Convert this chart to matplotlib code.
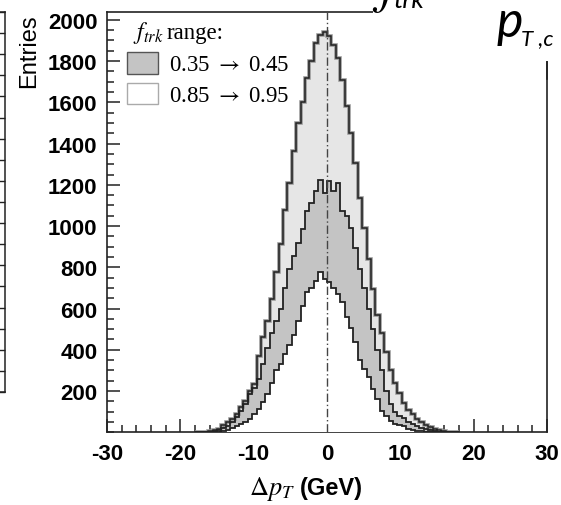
import matplotlib
matplotlib.use("Agg")
import matplotlib.pyplot as plt
import numpy as np
from matplotlib.patches import Rectangle

plt.rcParams['font.family'] = ['Liberation Sans', 'DejaVu Sans']
plt.rcParams['mathtext.fontset'] = 'stix'
plt.rcParams['axes.unicode_minus'] = False

# histogram binning (GeV)
bin_lo = -18.0
bin_width = 0.6

# 0.85 -> 0.95 (outer, light band)
h_outer = [1, 1, 2, 4, 9, 17, 33, 49, 65, 90, 122, 154, 202, 235,
           370, 460, 540, 645, 776, 911, 1080, 1210, 1362, 1500, 1600, 1720, 1800, 1890, 1928, 1941,
           1920, 1880, 1815, 1710, 1581, 1452, 1307, 1138, 992, 839, 694, 570, 480, 390, 300, 240,
           190, 140, 110, 90, 65, 50, 35, 27, 17, 10, 6, 3, 2, 1]
# 0.35 -> 0.45 (upper edge of dark band)
h_mid = [0, 1, 1, 3, 6, 12, 20, 31, 51, 75, 104, 138, 186, 215,
         260, 330, 410, 480, 540, 600, 700, 790, 855, 920, 984, 1073, 1114, 1170, 1223, 1162,
         1218, 1170, 1211, 1073, 1049, 992, 896, 791, 702, 600, 500, 400, 300, 200, 138, 99,
         80, 70, 51, 40, 31, 20, 14, 9, 5, 3, 2, 1, 0, 0]
# lower edge of dark band
h_inner = [0, 0, 0, 0, 1, 3, 6, 12, 20, 31, 41, 51, 65, 90,
           114, 147, 186, 240, 300, 330, 380, 425, 470, 540, 613, 678, 702, 734, 775, 742,
           727, 702, 670, 630, 557, 505, 436, 350, 307, 270, 210, 162, 104, 80, 56, 41,
           35, 31, 17, 12, 7, 4, 2, 1, 0, 0, 0, 0, 0, 0]

legend_title = ("$f_{trk}$", "range:")
legend_labels = [r"0.35 $\rightarrow$ 0.45", r"0.85 $\rightarrow$ 0.95"]

edges = bin_lo + bin_width * np.arange(len(h_outer) + 1)

W, H = 561, 506
fig = plt.figure(figsize=(W / 100, H / 100), dpi=100)

def fx(px):
    return px / W

def fy(py):
    return 1 - py / H

serif = ['Liberation Serif', 'DejaVu Serif']

# main frame
ax = fig.add_axes([fx(107), fy(433.3), fx(547) - fx(107), fy(13) - fy(433.3)])
ax.set_xlim(-30, 30)
ax.set_ylim(0, 2038)

ax.stairs(h_outer, edges, fill=True, color='#e6e6e6', zorder=1)
ax.stairs(h_mid, edges, fill=True, color='#c4c4c4', zorder=2)
ax.stairs(h_inner, edges, fill=True, color='white', zorder=3)
ax.stairs(h_outer, edges, color='#999999', lw=2.6, zorder=4)
ax.stairs(h_outer, edges, color='#222222', lw=1.1, zorder=5)
ax.stairs(h_mid, edges, color='#222222', lw=1.3, zorder=5)
ax.stairs(h_inner, edges, color='#222222', lw=1.3, zorder=5)
ax.axvline(0, color='#444444', lw=1.0, ls=(0, (6, 2, 1, 2)), zorder=6)

for s in ax.spines.values():
    s.set_linewidth(1.2)
    s.set_color('#222222')

ax.set_xticks(np.arange(-30, 31, 10))
ax.set_xticks(np.arange(-30, 31, 2), minor=True)
ax.set_yticks(np.arange(200, 2001, 200))
ax.set_yticks(np.arange(0, 2001, 50), minor=True)
ax.tick_params(which='both', direction='in', top=False, right=False, width=1.1, color='#222222')
ax.tick_params(which='major', length=9.5, labelsize=16)
ax.tick_params(which='minor', length=5)
ax.tick_params(axis='y', pad=7)
ax.tick_params(axis='x', pad=8)
for lbl in ax.get_xticklabels() + ax.get_yticklabels():
    lbl.set_fontweight('bold')

# legend
tr = ax.transAxes
def ax_x(px):
    return (px - 107) / 440
def ax_y(py):
    return (433.3 - py) / 420.3

ax.text(ax_x(133), ax_y(39), legend_title[0], transform=tr, fontsize=17, ha='left', va='baseline', zorder=7)
ax.text(ax_x(167), ax_y(39), legend_title[1], transform=tr, fontsize=16.5, family=serif,
        ha='left', va='baseline', zorder=7)
ax.add_patch(Rectangle((ax_x(127), ax_y(75)), ax_x(158) - ax_x(127), ax_y(53) - ax_y(75), transform=tr,
                       facecolor='#c4c4c4', edgecolor='#555555', lw=1.0, zorder=7))
ax.add_patch(Rectangle((ax_x(127), ax_y(105)), ax_x(158) - ax_x(127), ax_y(84) - ax_y(105), transform=tr,
                       facecolor='white', edgecolor='#aaaaaa', lw=1.0, zorder=7))
ax.text(ax_x(169), ax_y(71), legend_labels[0], transform=tr, fontsize=16.5, family=serif,
        ha='left', va='baseline', zorder=7)
ax.text(ax_x(169), ax_y(102), legend_labels[1], transform=tr, fontsize=16.5, family=serif,
        ha='left', va='baseline', zorder=7)

# axis titles
fig.text(fx(29), fy(14), 'Entries', rotation=90, ha='center', va='top', fontsize=17)
fig.text(fx(295), fy(495), r"$\Delta p_T$", ha='right', va='baseline', fontsize=19)
fig.text(fx(300), fy(495), '(GeV)', ha='left', va='baseline', fontsize=17, fontweight='bold')

# edge of the neighbouring panel
ax0 = fig.add_axes([-0.5, fy(393), 0.5 + fx(5), fy(13) - fy(393)])
ax0.set_xlim(0, 1)
ax0.set_ylim(0, 18)
ax0.spines['left'].set_visible(False)
for s in ['right', 'top', 'bottom']:
    ax0.spines[s].set_linewidth(1.1)
    ax0.spines[s].set_color('#222222')
ax0.set_xticks([])
ax0.yaxis.tick_right()
ax0.set_yticks(np.arange(0, 19))
ax0.tick_params(axis='y', direction='in', length=4, width=1.0, labelright=False, color='#222222')

# slide overlay in the top right corner
fig.add_artist(Rectangle((fx(373), fy(62)), 1 - fx(373), fy(0) - fy(62), transform=fig.transFigure,
                         facecolor='white', edgecolor='none', zorder=10))
fig.text(fx(372), fy(1), r"$f$", fontsize=40, ha='left', va='baseline', zorder=11)
fig.text(fx(393), fy(8), 'trk', fontsize=19, style='italic', family='Lato', ha='left', va='baseline', zorder=11)
fig.text(fx(497), fy(37), 'p', fontsize=36, style='italic', family='Lato', ha='left', va='baseline', zorder=11)
fig.text(fx(521), fy(45), 'T ,c', fontsize=16, style='italic', family='Lato', ha='left', va='baseline', zorder=11)
fig.add_artist(plt.Line2D([fx(547), fx(547)], [fy(63), fy(80)], transform=fig.transFigure,
                          color='#222222', lw=1.2, zorder=11))

fig.savefig('out.png', dpi=100)
